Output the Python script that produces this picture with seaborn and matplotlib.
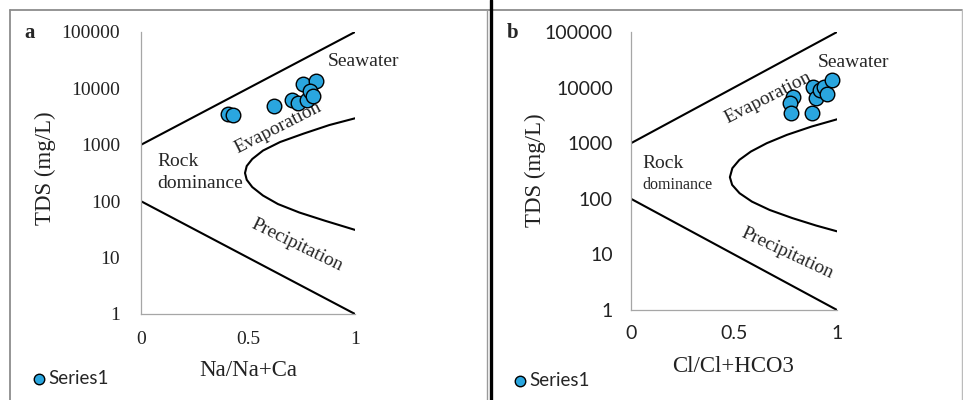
import matplotlib
matplotlib.use("Agg")
import matplotlib.pyplot as plt
import seaborn as sns
import pandas as pd
from matplotlib.lines import Line2D

# Sample ratios and total dissolved solids
na_ratio = [0.408, 0.429, 0.621, 0.704, 0.735, 0.774, 0.758, 0.816, 0.790, 0.802]
na_tds = [3470, 3380, 4930, 6230, 5580, 6230, 11970, 13530, 9120, 7330]
cl_ratio = [0.785, 0.772, 0.778, 0.877, 0.885, 0.898, 0.917, 0.937, 0.950, 0.977]
cl_tds = [6700, 5220, 3490, 3540, 10370, 6420, 9050, 10380, 7670, 13700]

# Gibbs diagram boundaries
upper_x = [0, 1]
upper_tds = [1000, 100000]
lower_x = [0, 1]
lower_tds = [100, 1]
curve_a_x = [1.0, 0.88, 0.76, 0.65, 0.57, 0.52, 0.494, 0.486, 0.494, 0.52, 0.57, 0.64, 0.74, 0.86, 1.0]
curve_a_tds = [2950, 2240, 1580, 1120, 790, 560, 420, 316, 240, 178, 126, 89, 63, 45, 31]
curve_b_x = [1.0, 0.877, 0.757, 0.659, 0.582, 0.526, 0.492, 0.48, 0.491, 0.527, 0.587, 0.673, 0.783, 0.899, 1.0]
curve_b_tds = [2690, 1995, 1413, 1000, 708, 501, 355, 245, 178, 126, 89, 63, 45, 33, 26]

y_ticks = [1, 10, 100, 1000, 10000, 100000]
y_labels = ["1", "10", "100", "1000", "10000", "100000"]
x_ticks = [0, 0.5, 1]
x_labels = ["0", "0.5", "1"]

sns.set_style("white")
plt.rcParams["font.family"] = ["Liberation Serif", "DejaVu Serif"]

SERIF = "Liberation Serif"
SANS = "Lato"
W, H = 963, 400

fig = plt.figure(figsize=(W / 100, H / 100), dpi=100)
fig.patch.set_facecolor("white")


def px_axes(left, right, top, bottom):
    return fig.add_axes([left / W, 1 - bottom / H, (right - left) / W, (bottom - top) / H])


def draw_panel(ax, xr, tds, curve_x, curve_tds, tick_font, xlabel):
    sns.lineplot(x=upper_x, y=upper_tds, ax=ax, color="black", lw=1.5, sort=False, estimator=None)
    sns.lineplot(x=lower_x, y=lower_tds, ax=ax, color="black", lw=1.5, sort=False, estimator=None)
    sns.lineplot(x=curve_x, y=curve_tds, ax=ax, color="black", lw=1.5, sort=False, estimator=None)
    df = pd.DataFrame({"ratio": xr, "tds": tds})
    sns.scatterplot(data=df, x="ratio", y="tds", ax=ax, s=110, color="#2AA6DF",
                    edgecolor="black", linewidth=1.0, label="Series1", zorder=5, clip_on=False)
    ax.set_yscale("log")
    ax.set_xlim(0, 1)
    ax.set_ylim(1, 100000)
    ax.set_yticks(y_ticks)
    ax.set_yticklabels(y_labels)
    ax.set_xticks(x_ticks)
    ax.set_xticklabels(x_labels)
    ax.minorticks_off()
    for lab in ax.get_xticklabels() + ax.get_yticklabels():
        lab.set_family(tick_font)
        lab.set_fontsize(14)
        lab.set_color("#222222")
    ax.tick_params(length=0)
    for side in ["top", "right"]:
        ax.spines[side].set_visible(False)
    for side in ["left", "bottom"]:
        ax.spines[side].set_color("#A6A6A6")
        ax.spines[side].set_linewidth(0.9)
    ax.set_ylabel("TDS (mg/L)", fontsize=16.5, family=SERIF, color="#222222")
    ax.set_xlabel(xlabel, fontsize=16.5, family=SERIF, color="#222222")
    ax.yaxis.label.set_va("center")
    ax.xaxis.label.set_va("center")
    ax.set_facecolor("white")


# Panel a
ax1 = px_axes(141, 355, 32, 314)
draw_panel(ax1, na_ratio, na_tds, curve_a_x, curve_a_tds, SERIF, "Na/Na+Ca")
ax1.tick_params(axis="y", pad=15)
ax1.tick_params(axis="x", pad=12)
ax1.yaxis.set_label_coords((45 - 141) / 214, (314 - 168) / 282)
ax1.xaxis.set_label_coords((248 - 141) / 214, (314 - 370) / 282)
ax1.text(0.874, 29500, "Seawater", fontsize=14, family=SERIF, ha="left", va="center")
ax1.text(0.64, 1990, "Evaporation", fontsize=14, family=SERIF, ha="center", va="center",
         rotation=27, rotation_mode="anchor")
ax1.text(0.075, 500, "Rock", fontsize=14, family=SERIF, ha="left", va="center")
ax1.text(0.075, 210, "dominance", fontsize=14, family=SERIF, ha="left", va="center")
ax1.text(0.729, 16.7, "Precipitation", fontsize=14, family=SERIF, ha="center", va="center",
         rotation=-26, rotation_mode="anchor")
ax1.legend(loc="center left", bbox_to_anchor=(33 / W, 1 - 378 / H), bbox_transform=fig.transFigure,
           frameon=False, prop={"family": SANS, "size": 13.5}, markerscale=0.72,
           handlelength=0.6, handletextpad=0.2, borderpad=0, borderaxespad=0)

# Panel b
ax2 = px_axes(631, 837, 32, 310)
draw_panel(ax2, cl_ratio, cl_tds, curve_b_x, curve_b_tds, SANS, "Cl/Cl+HCO3")
ax2.tick_params(axis="y", pad=13)
ax2.tick_params(axis="x", pad=11)
ax2.yaxis.set_label_coords((535 - 631) / 206, (310 - 170) / 278)
ax2.xaxis.set_label_coords((733 - 631) / 206, (310 - 367) / 278)
ax2.text(0.908, 28800, "Seawater", fontsize=14, family=SERIF, ha="left", va="center")
ax2.text(0.665, 6500, "Evaporation", fontsize=14, family=SERIF, ha="center", va="center",
         rotation=27, rotation_mode="anchor")
ax2.text(0.053, 440, "Rock", fontsize=14, family=SERIF, ha="left", va="center")
ax2.text(0.053, 177, "dominance", fontsize=11.5, family=SERIF, ha="left", va="center")
ax2.text(0.757, 10.6, "Precipitation", fontsize=14, family=SERIF, ha="center", va="center",
         rotation=-25, rotation_mode="anchor")
ax2.legend(loc="center left", bbox_to_anchor=(514 / W, 1 - 380 / H), bbox_transform=fig.transFigure,
           frameon=False, prop={"family": SANS, "size": 13.5}, markerscale=0.72,
           handlelength=0.6, handletextpad=0.2, borderpad=0, borderaxespad=0)

# Panel letters
fig.text(30 / W, 1 - 33 / H, "a", fontsize=15, fontweight="bold", family=SERIF, ha="center", va="center")
fig.text(513 / W, 1 - 33 / H, "b", fontsize=15, fontweight="bold", family=SERIF, ha="center", va="center")

# Chart frames and the divider between the two panels
def fig_line(x0, y0, x1, y1, color, lw):
    fig.add_artist(Line2D([x0 / W, x1 / W], [1 - y0 / H, 1 - y1 / H], color=color, lw=lw,
                          transform=fig.transFigure))


fig_line(10, 9.5, 962, 9.5, "#8C8C8C", 1.3)
fig_line(10, 9.5, 10, 400, "#8C8C8C", 1.3)
fig_line(487, 9.5, 487, 400, "#9A9A9A", 1.0)
fig_line(962, 9.5, 962, 400, "#BBBBBB", 1.0)
fig_line(491, 0, 491, 400, "black", 2.4)

fig.savefig("out.png", dpi=100, facecolor="white")
